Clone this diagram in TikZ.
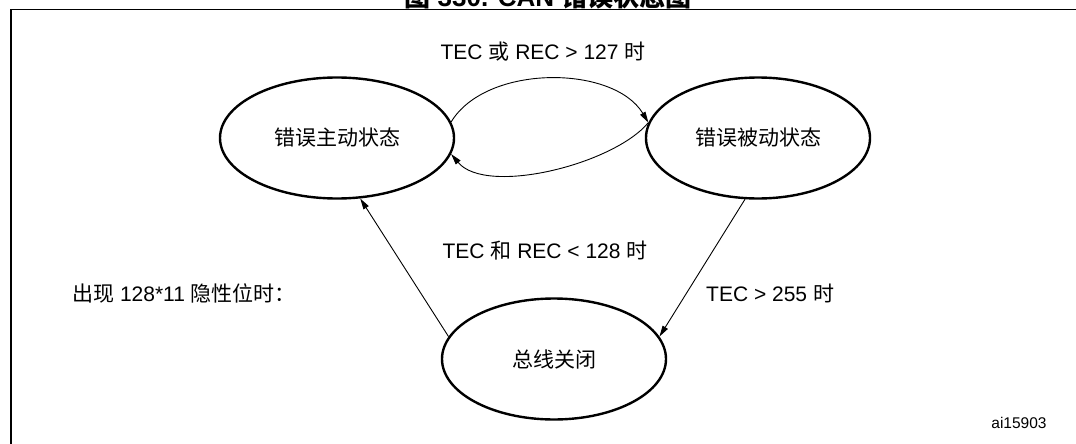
\documentclass[tikz,border=0pt]{standalone}
\usepackage{fontspec}
\setmainfont{Liberation Sans}
\newfontfamily\cjk{Noto Sans CJK SC}
\usetikzlibrary{shapes.geometric,arrows.meta}
\tikzset{
  state/.style={ellipse, draw, line width=2.4pt, inner sep=0pt,
    minimum width=#1, minimum height=121pt, font=\fontsize{21}{25}\selectfont},
  state/.default=230pt,
  conn/.style={line width=0.9pt, -{Triangle[length=11pt,width=6pt]}},
  lbl/.style={font=\fontsize{21}{25}\selectfont, inner sep=0pt},
}
\begin{document}
\begin{tikzpicture}[x=1pt,y=-1pt]
\useasboundingbox (0,0) rectangle (1076,444);
% frame
\draw[line width=1.2pt] (11,444) -- (11,9.5) -- (1076,9.5);
% title (clipped at top)
\node[anchor=base, inner sep=0pt, font=\fontsize{26}{30}\selectfont\bfseries] (title) at (548,6.5)
  {{\cjk 图} 330. CAN {\cjk 错误状态图}};
% states
\node[state=234pt] (act) at (337,138) {\cjk 错误主动状态};
\node[state=224pt] (pas) at (758,138) {\cjk 错误被动状态};
\node[state=224pt] (off) at (554,359) {\cjk 总线关闭};
% connectors
\draw[conn] (act.8) .. controls +(35,-58) and +(-35,-58) .. (pas.172);
\draw[conn] (pas.-188) .. controls +(-35,42) and +(35,42) .. (act.-8);
\draw[conn] (off.168) -- (act.-69);
\draw[conn] (pas.-102) -- (off.12);
% labels
\node[lbl] (l1) at (543,52) {TEC {\cjk 或} REC > 127 {\cjk 时}};
\node[lbl] (l2) at (545,251) {TEC {\cjk 和} REC < 128 {\cjk 时}};
\node[lbl, anchor=west] (l3) at (72,293) {{\cjk 出现} 128*11 {\cjk 隐性位时：}};
\node[lbl, anchor=west] (l4) at (706,293) {TEC > 255 {\cjk 时}};
\node[inner sep=0pt, font=\fontsize{15.5}{18}\selectfont] (id) at (1019,423) {ai15903};
\end{tikzpicture}
\end{document}
